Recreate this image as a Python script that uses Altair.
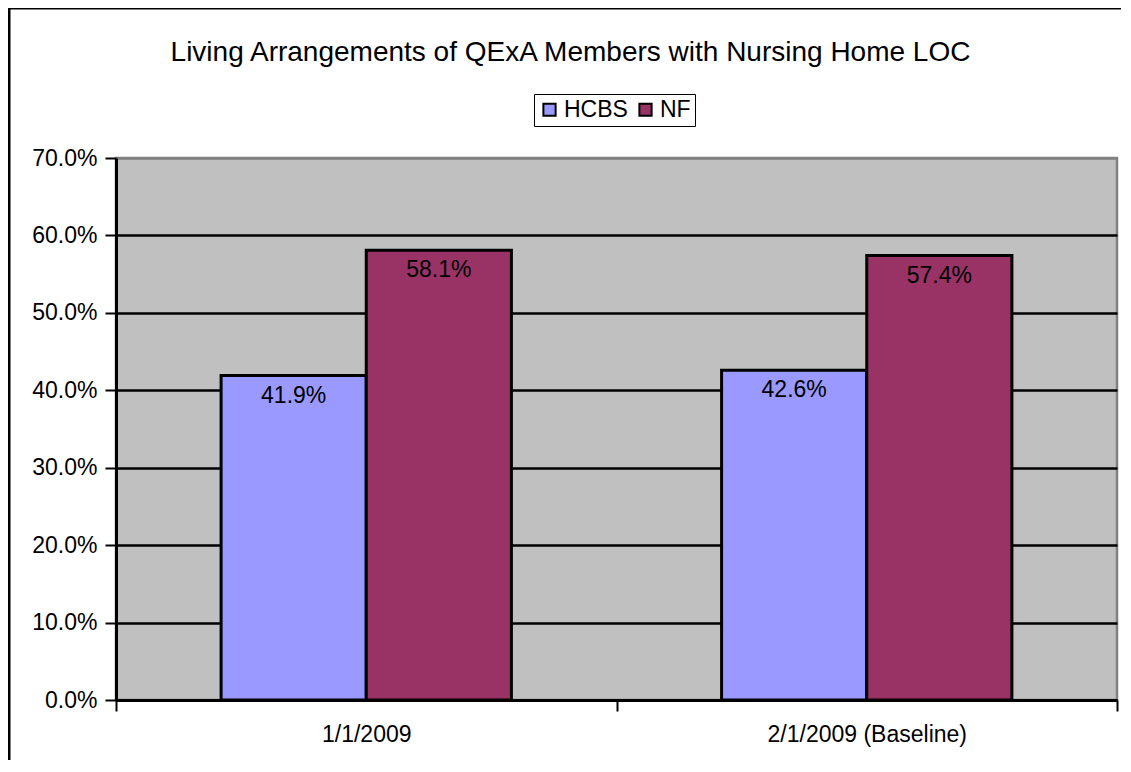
import altair as alt
import pandas as pd

categories = ["1/1/2009", "2/1/2009 (Baseline)"]
series = ["HCBS", "NF"]
hcbs = [0.419, 0.426]
nf = [0.581, 0.574]
colors = ["#9999FF", "#993366"]
y_ticks = [0.0, 0.1, 0.2, 0.3, 0.4, 0.5, 0.6, 0.7]

rows = []
for i, c in enumerate(categories):
    rows.append({"cat": c, "series": "HCBS", "value": hcbs[i]})
    rows.append({"cat": c, "series": "NF", "value": nf[i]})
df = pd.DataFrame(rows)

FONT = "Liberation Sans"
FS = 23

x_enc = alt.X("cat:N", sort=categories,
              scale=alt.Scale(paddingInner=0, paddingOuter=0),
              axis=alt.Axis(title=None, labelAngle=0, tickBand="extent", tickSize=11,
                            tickColor="black", tickWidth=2, domainColor="black",
                            domainWidth=3, labelFontSize=FS, labelFont=FONT,
                            labelColor="black", labelPadding=12, labelLimit=0, grid=False))
xo_enc = alt.XOffset("series:N", sort=series,
                     scale=alt.Scale(paddingInner=0, paddingOuter=0.724))
y_enc = alt.Y("value:Q", scale=alt.Scale(domain=[0, 0.7], nice=False),
              axis=alt.Axis(title=None, values=y_ticks, format=".1%", tickSize=11,
                            tickColor="black", tickWidth=2, domainColor="black",
                            domainWidth=3, labelFontSize=FS, labelFont=FONT,
                            labelColor="black", labelPadding=8,
                            gridColor={"condition": {"test": "datum.value >= 0.69", "value": "#808080"},
                                       "value": "black"},
                            gridWidth=2.5))

base = alt.Chart(df)

bars = base.mark_bar(stroke="black", strokeWidth=3).encode(
    x=x_enc, xOffset=xo_enc, y=y_enc,
    color=alt.Color("series:N", sort=series,
                    scale=alt.Scale(domain=series, range=colors),
                    legend=alt.Legend(title=None, orient="none", legendX=418, legendY=-64,
                                      direction="horizontal", strokeColor="black",
                                      fillColor="white", padding=4, symbolType="square",
                                      symbolSize=150, symbolStrokeColor="black",
                                      symbolStrokeWidth=2, labelFontSize=FS, labelFont=FONT,
                                      labelColor="black", columnPadding=6, labelOffset=3))
)

labels = base.mark_text(baseline="top", dy=9, fontSize=FS, font=FONT, color="black").encode(
    x=x_enc, xOffset=xo_enc, y=y_enc,
    text=alt.Text("value:Q", format=".1%")
)

frame_df = pd.DataFrame({"k": [0]})
frame_left = alt.Chart(frame_df).mark_rule(color="black", strokeWidth=3).encode(
    x=alt.value(-107), y=alt.value(-150), y2=alt.value(700))
frame_top = alt.Chart(frame_df).mark_rule(color="black", strokeWidth=3).encode(
    x=alt.value(-108), x2=alt.value(1010), y=alt.value(-150))

chart = alt.layer(bars, labels, frame_left, frame_top).properties(
    width=1001, height=542,
    autosize=alt.AutoSizeParams(type="none"),
    padding={"left": 108, "top": 150, "right": 4, "bottom": 60},
    title=alt.TitleParams("Living Arrangements of QExA Members with Nursing Home LOC",
                          font=FONT, fontSize=28, fontWeight="normal", color="black",
                          anchor="middle", frame="group", dx=-46, offset=-74,
                          baseline="middle"),
    background="white",
).configure_view(fill="#C0C0C0", stroke="#808080", strokeWidth=2.5)

chart.save("out.html", embed_options={"renderer": "svg", "actions": False})
